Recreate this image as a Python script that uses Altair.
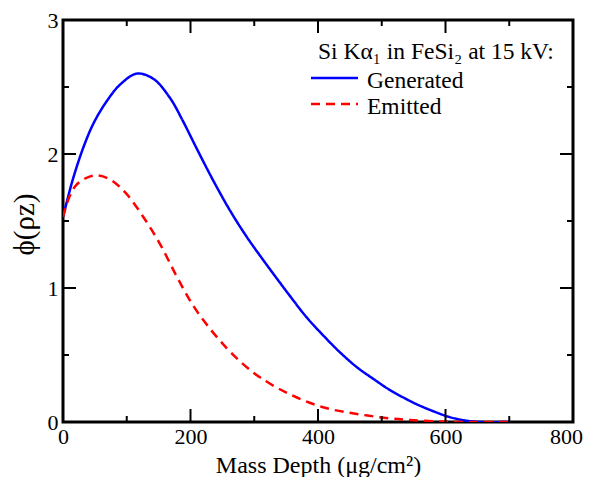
import altair as alt
import pandas as pd

# ---- data ----
gen_depth = [0, 8, 16, 32, 48, 68, 90, 116, 142, 168, 188, 210, 236, 262, 288, 314, 354, 382, 408, 434,
             461, 487, 513, 539, 555, 581, 607, 633, 655, 700]
gen_phi = [1.53, 1.68, 1.82, 2.05, 2.23, 2.39, 2.52, 2.60, 2.56, 2.417, 2.247, 2.038, 1.799, 1.578, 1.383, 1.209,
           0.953, 0.782, 0.647, 0.522, 0.409, 0.321, 0.238, 0.170, 0.132, 0.080, 0.036, 0.01, 0.0, 0.0]

emi_depth = [0, 10, 21, 36, 53, 74, 100, 126, 152, 178, 204, 230, 257, 283, 310, 356, 408, 461, 513, 544,
             580, 620, 700]
emi_phi = [1.53, 1.68, 1.77, 1.82, 1.84, 1.81, 1.70, 1.53, 1.33, 1.09, 0.87, 0.70, 0.55, 0.43, 0.33, 0.206,
           0.11, 0.06, 0.027, 0.015, 0.006, 0.0, 0.0]

series_names = ["Generated", "Emitted"]
legend_title = "Si Kα\u2081 in FeSi\u2082 at 15 kV:"

x_major = [0, 200, 400, 600, 800]
x_minor = [100, 300, 500, 700]
y_major = [0, 1, 2, 3]
y_minor = [0.5, 1.5, 2.5]

FONT = "Liberation Serif"
W, H = 510, 402

xscale = alt.Scale(domain=[0, 800], nice=False, zero=False)
yscale = alt.Scale(domain=[0, 3], nice=False, zero=False)
xaxis = alt.Axis(values=x_major, format="d", labelFlush=False, labelPadding=4,
                 labelOffset={"condition": {"test": "datum.value === 800", "value": -7}, "value": 0},
                 title="Mass Depth (μg/cm²)", titleFontSize=24, titleX=W / 2, titleY=50,
                 titleAlign="center", titleBaseline="alphabetic")
yaxis = alt.Axis(values=y_major, format="d", labelFlush=False, labelPadding=5,
                 title="\u03d5(ρz)", titleFontSize=29, titleX=-39, titleY=H / 2 + 3,
                 titleAngle=-90, titleAlign="center", titleBaseline="middle")


def X(field="d"):
    return alt.X(f"{field}:Q", scale=xscale, axis=xaxis)


def Y(field="v"):
    return alt.Y(f"{field}:Q", scale=yscale, axis=yaxis)


df = pd.concat([
    pd.DataFrame({"d": gen_depth, "v": gen_phi, "s": series_names[0]}),
    pd.DataFrame({"d": emi_depth, "v": emi_phi, "s": series_names[1]}),
])

lines = alt.Chart(df).mark_line(strokeWidth=2.5, interpolate="catmull-rom", clip=True).encode(
    x=X(), y=Y(),
    color=alt.Color("s:N", scale=alt.Scale(domain=series_names, range=["#0000ff", "#ff0000"]), legend=None),
    strokeDash=alt.StrokeDash("s:N", scale=alt.Scale(domain=series_names, range=[[1, 0], [9, 6]]), legend=None),
    detail="s:N",
)

layers = [lines]


def xticks(vals, length):
    d = pd.DataFrame({"d": vals})
    b = alt.Chart(d).mark_rule(color="black", strokeWidth=2).encode(
        x=X(), y=alt.value(H), y2=alt.value(H - length))
    t = alt.Chart(d).mark_rule(color="black", strokeWidth=2).encode(
        x=X(), y=alt.value(0), y2=alt.value(length))
    return [b, t]


def yticks(vals, length):
    d = pd.DataFrame({"v": vals})
    l = alt.Chart(d).mark_rule(color="black", strokeWidth=2).encode(
        y=Y(), x=alt.value(0), x2=alt.value(length))
    r = alt.Chart(d).mark_rule(color="black", strokeWidth=2).encode(
        y=Y(), x=alt.value(W), x2=alt.value(W - length))
    return [l, r]


layers += xticks(x_major, 13) + xticks(x_minor, 6) + yticks(y_major, 13) + yticks(y_minor, 6)

# ---- hand-drawn legend ----
one = pd.DataFrame({"k": [0]})
layers.append(alt.Chart(one).mark_text(font=FONT, fontSize=23.5, align="left", baseline="alphabetic", color="black").encode(
    x=alt.value(255), y=alt.value(39), text=alt.value(legend_title)))
layers.append(alt.Chart(one).mark_rule(color="#0000ff", strokeWidth=2.5).encode(
    x=alt.value(248), x2=alt.value(295), y=alt.value(58)))
layers.append(alt.Chart(one).mark_rule(color="#ff0000", strokeWidth=2.5, strokeDash=[9, 6]).encode(
    x=alt.value(248), x2=alt.value(295), y=alt.value(84)))
layers.append(alt.Chart(one).mark_text(font=FONT, fontSize=23.5, align="left", baseline="alphabetic", color="black").encode(
    x=alt.value(304), y=alt.value(68), text=alt.value(series_names[0])))
layers.append(alt.Chart(one).mark_text(font=FONT, fontSize=23.5, align="left", baseline="alphabetic", color="black").encode(
    x=alt.value(304), y=alt.value(94), text=alt.value(series_names[1])))

chart = alt.layer(*layers).properties(
    width=W, height=H,
    autosize=alt.AutoSizeParams(type="none"),
    padding={"left": 55, "top": 12, "right": 11, "bottom": 55},
).configure_view(stroke="black", strokeWidth=3).configure_axis(
    grid=False, domain=False, ticks=False,
    labelFont=FONT, labelFontSize=22, labelColor="black",
    titleFont=FONT, titleFontWeight="normal", titleColor="black",
)

chart.save("out.html", embed_options={"renderer": "svg", "actions": False})
